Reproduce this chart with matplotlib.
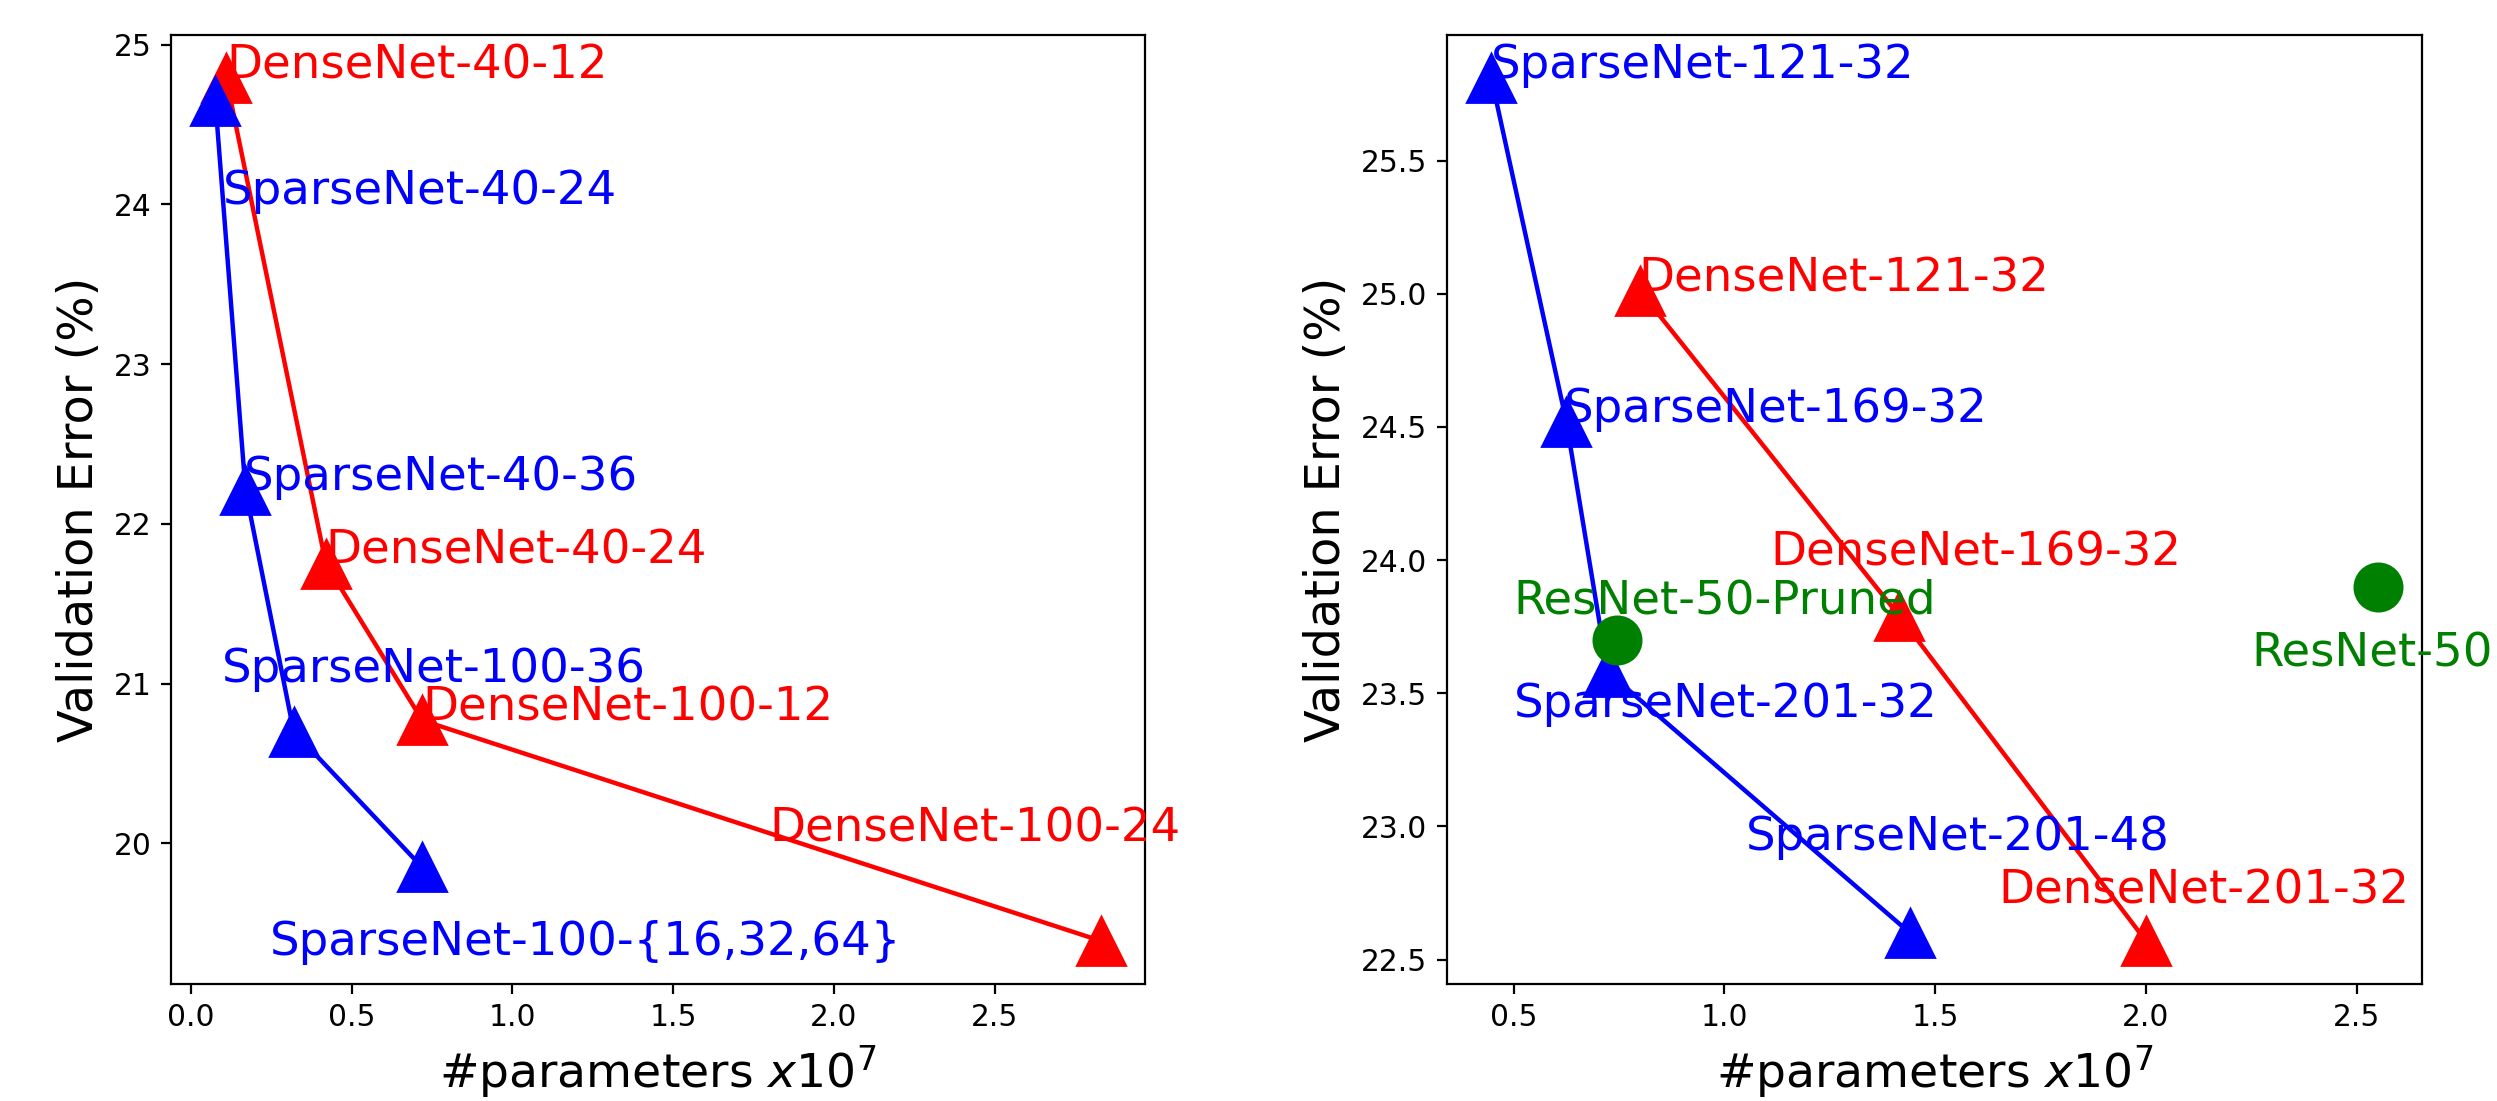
import matplotlib
matplotlib.use('Agg')
import matplotlib.pyplot as plt

# CIFAR-style (left) data: params in units of 1e7, validation error in %
dense_small_names = ['DenseNet-40-12', 'DenseNet-40-24', 'DenseNet-100-12', 'DenseNet-100-24']
dense_small_params = [0.11, 0.42, 0.72, 2.83]
dense_small_err = [24.79, 21.75, 20.77, 19.39]

sparse_small_names = ['SparseNet-40-24', 'SparseNet-40-36', 'SparseNet-100-36', 'SparseNet-100-{16,32,64}']
sparse_small_params = [0.076, 0.17, 0.32, 0.72]
sparse_small_err = [24.65, 22.21, 20.70, 19.85]

# ImageNet-style (right) data
dense_big_names = ['DenseNet-121-32', 'DenseNet-169-32', 'DenseNet-201-32']
dense_big_params = [0.80, 1.415, 2.0]
dense_big_err = [25.01, 23.79, 22.57]

sparse_big_names = ['SparseNet-121-32', 'SparseNet-169-32', 'SparseNet-201-32', 'SparseNet-201-48']
sparse_big_params = [0.447, 0.625, 0.723, 1.44]
sparse_big_err = [25.81, 24.52, 23.58, 22.60]

resnet_names = ['ResNet-50-Pruned', 'ResNet-50']
resnet_params = [0.745, 2.55]
resnet_err = [23.70, 23.90]

# where each label sits (data coords, left/baseline anchored)
dense_small_lbl = [(0.11, 24.79), (0.42, 21.75), (0.72, 20.77), (1.80, 20.01)]
sparse_small_lbl = [(0.10, 24.0), (0.165, 22.21), (0.095, 21.01), (0.245, 19.30)]
dense_big_lbl = [(0.795, 25.01), (1.11, 23.98), (1.65, 22.71)]
sparse_big_lbl = [(0.447, 25.81), (0.62, 24.52), (0.50, 23.41), (1.05, 22.91)]
resnet_lbl = [(0.50, 23.80), (2.25, 23.60)]

FS = 16.8
MS = 17
LW = 1.6

fig = plt.figure(figsize=(2497 / 200, 1101 / 200), dpi=200)
ax1 = fig.add_axes([171 / 2497, 117 / 1101, 974 / 2497, 949 / 1101])
ax2 = fig.add_axes([1447 / 2497, 117 / 1101, 975 / 2497, 949 / 1101])


def draw(ax, params, err, names, lbls, color, marker, line=True):
    ax.plot(params, err, color=color, lw=LW if line else 0, marker=marker,
            markersize=MS, linestyle='-' if line else 'none')
    for name, (tx, ty) in zip(names, lbls):
        ax.text(tx, ty, name, color=color, fontsize=FS)


draw(ax1, dense_small_params, dense_small_err, dense_small_names, dense_small_lbl, 'red', '^')
draw(ax1, sparse_small_params, sparse_small_err, sparse_small_names, sparse_small_lbl, 'blue', '^')

draw(ax2, sparse_big_params, sparse_big_err, sparse_big_names, sparse_big_lbl, 'blue', '^')
draw(ax2, dense_big_params, dense_big_err, dense_big_names, dense_big_lbl, 'red', '^')
draw(ax2, resnet_params, resnet_err, resnet_names, resnet_lbl, 'green', 'o', line=False)

ax1.set_yticks([20, 21, 22, 23, 24, 25])
ax2.set_yticks([22.5, 23.0, 23.5, 24.0, 24.5, 25.0, 25.5])

for ax in (ax1, ax2):
    ax.set_xlabel('#parameters $x10^7$', fontsize=17)
    ax.set_ylabel('Validation Error (%)', fontsize=17.2)
    ax.tick_params(labelsize=10.7)

fig.savefig('out.png', dpi=200)
